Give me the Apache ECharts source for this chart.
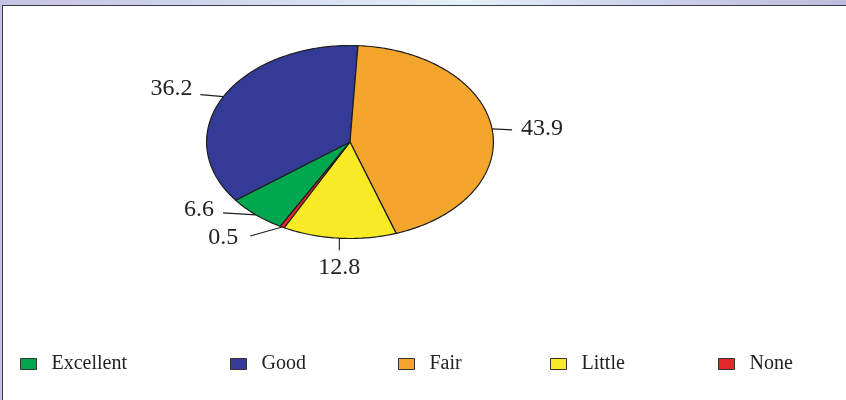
<!DOCTYPE html>
<html>
<head>
<meta charset="utf-8">
<script src="https://cdn.jsdelivr.net/npm/echarts@6/dist/echarts.min.js"></script>
<style>
  html, body { margin: 0; padding: 0; width: 846px; height: 400px; overflow: hidden; background: #ffffff; }
  #frame { position: absolute; left: 0; top: 0; width: 846px; height: 400px;
    background: linear-gradient(90deg, #c6c3e2 0%, #d0d5ec 25%, #e3f1f8 55%, #cfd3eb 75%, #bfbbdf 100%); }
  #panel { position: absolute; left: 2px; top: 5px; width: 844px; height: 395px; background: #ffffff;
    border-left: 1.6px solid #3a3a44; border-top: 1.6px solid #3a3a44; box-sizing: border-box; }
  #chart { position: absolute; left: 0; top: 0; width: 846px; height: 400px; }
</style>
</head>
<body>
<div id="frame"><div id="panel"></div></div>
<div id="chart"></div>
<script>
// ---- data ----
const categories = ['Excellent', 'Good', 'Fair', 'Little', 'None'];
const values = [6.6, 36.2, 43.9, 12.8, 0.5];
const valueLabels = ['6.6', '36.2', '43.9', '12.8', '0.5'];

// ---- style / layout ----
const colors = ['#00a74e', '#333b96', '#f4a52c', '#f8ea24', '#e5282b'];
const ellipse = { cx: 350, cy: 142, rx: 143.4, ry: 96.5 };
const startAngleDeg = 240.9;           // parametric angle where first slice starts, going clockwise
// leader offsets (dx, dy) from slice mid point, and text placement relative to leader end
const labelLayout = [
  { dx: -33, dy: -2, tx: -9, ty: -3, align: 'right', vAlign: 'middle' },
  { dx: -23, dy: -2, tx: -8, ty: -6, align: 'right', vAlign: 'middle' },
  { dx: 20, dy: 1, tx: 9, ty: -1, align: 'left', vAlign: 'middle' },
  { dx: 0, dy: 12, tx: 0, ty: 17, align: 'center', vAlign: 'middle' },
  { dx: -32, dy: 9, tx: -12, ty: 2, align: 'right', vAlign: 'middle' }
];
const legendLeft = [20, 230, 398, 550, 718];
const FONT = '"Liberation Serif", "DejaVu Serif", serif';

const total = values.reduce((s, v) => s + v, 0);
function sliceAngles(i) {
  let acc = 0;
  for (let k = 0; k < i; k++) acc += values[k];
  const a0 = startAngleDeg - acc / total * 360;
  const a1 = a0 - values[i] / total * 360;
  return [a0, a1];
}
function pt(deg) {
  const r = deg * Math.PI / 180;
  return [ellipse.cx + ellipse.rx * Math.cos(r), ellipse.cy - ellipse.ry * Math.sin(r)];
}

function makeRender(i) {
  return function (params, api) {
    const [a0, a1] = sliceAngles(i);
    const steps = Math.max(2, Math.ceil(Math.abs(a0 - a1)));
    const points = [[ellipse.cx, ellipse.cy]];
    for (let s = 0; s <= steps; s++) points.push(pt(a0 + (a1 - a0) * s / steps));
    const mid = pt((a0 + a1) / 2);
    const L = labelLayout[i];
    const end = [mid[0] + L.dx, mid[1] + L.dy];
    return {
      type: 'group',
      children: [
        { type: 'polygon', shape: { points: points },
          style: { fill: colors[i], stroke: '#1e1e1e', lineWidth: 1.2, lineJoin: 'round' } },
        { type: 'polyline', shape: { points: [mid, end] },
          style: { stroke: '#1e1e1e', lineWidth: 1.1, fill: null } },
        { type: 'text', x: end[0] + L.tx, y: end[1] + L.ty,
          style: { text: valueLabels[i], align: L.align, verticalAlign: L.vAlign,
                   fill: '#222222', font: '24px ' + FONT } }
      ]
    };
  };
}

const chart = echarts.init(document.getElementById('chart'), null, { renderer: 'canvas' });
chart.setOption({
  animation: false,
  backgroundColor: 'transparent',
  legend: categories.map((c, i) => ({
    data: [c],
    left: legendLeft[i],
    top: 354,
    padding: 0,
    icon: 'rect',
    itemWidth: 16,
    itemHeight: 11,
    itemStyle: { borderColor: '#333333', borderWidth: 1 },
    selectedMode: false,
    textStyle: { fontFamily: FONT, fontSize: 20, color: '#222222', padding: [0, 0, 0, 10], lineHeight: 20 }
  })),
  series: categories.map((c, i) => ({
    type: 'custom',
    name: c,
    coordinateSystem: 'none',
    itemStyle: { color: colors[i] },
    data: [values[i]],
    renderItem: makeRender(i)
  }))
});
</script>
</body>
</html>
